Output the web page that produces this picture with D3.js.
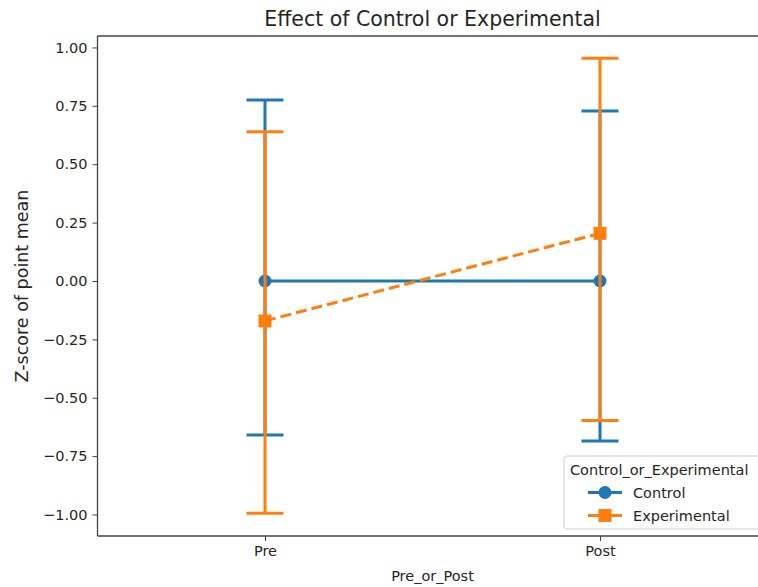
<!DOCTYPE html>
<html>
<head>
<meta charset="utf-8">
<script src="https://cdn.jsdelivr.net/npm/d3@7"></script>
<style>
  html, body { margin: 0; padding: 0; background: #fff; }
  svg { display: block; font-family: "DejaVu Sans", sans-serif; }
</style>
</head>
<body>
<svg id="chart" width="758" height="587"></svg>
<script>
// ---- data ----
const categories = ["Pre", "Post"];
const seriesNames = ["Control", "Experimental"];
const controlMean = [0.0, 0.0];
const controlLow = [-0.660, -0.685];
const controlHigh = [0.775, 0.728];
const experimentalMean = [-0.171, 0.204];
const experimentalLow = [-0.995, -0.597];
const experimentalHigh = [0.639, 0.954];
const yTicks = [-1.0, -0.75, -0.5, -0.25, 0.0, 0.25, 0.5, 0.75, 1.0];

const titleText = "Effect of Control or Experimental";
const xLabel = "Pre_or_Post";
const yLabel = "Z-score of point mean";
const legendTitle = "Control_or_Experimental";

const colors = ["#1f77b4", "#ff7f0e"];

const series = [
  { name: seriesNames[0], mean: controlMean, low: controlLow, high: controlHigh, color: colors[0], marker: "circle", dash: null },
  { name: seriesNames[1], mean: experimentalMean, low: experimentalLow, high: experimentalHigh, color: colors[1], marker: "square", dash: "11,5" }
];

// ---- layout ----
const svg = d3.select("#chart");
const pLeft = 97.5, pRight = 767.5, pTop = 36, pBottom = 536;

const x = d3.scalePoint().domain(categories).range([pLeft, pRight]).padding(0.5);
const y = d3.scaleLinear().domain([-1.092, 1.049]).range([pBottom, pTop]);

const axisColor = "#444";
const textColor = "#262626";

// axes
const yAxis = svg.append("g")
  .attr("transform", `translate(${pLeft},0)`)
  .call(d3.axisLeft(y).tickValues(yTicks).tickFormat(d3.format(".2f")).tickSize(5).tickPadding(5));
const xAxis = svg.append("g")
  .attr("transform", `translate(0,${pBottom})`)
  .call(d3.axisBottom(x).tickSize(5).tickPadding(5));

[yAxis, xAxis].forEach(g => {
  g.select(".domain").remove();
  g.selectAll(".tick line").attr("stroke", axisColor).attr("stroke-width", 1);
  g.selectAll(".tick text").attr("fill", textColor).style("font-size", "14.5px")
    .style("font-family", "'DejaVu Sans', sans-serif");
});
yAxis.selectAll(".tick text").text(d => d3.format(".2f")(d).replace("-", "\u2212"));

// spines
const spine = (x1, y1, x2, y2) => svg.append("line").attr("x1", x1).attr("y1", y1).attr("x2", x2).attr("y2", y2)
  .attr("stroke", axisColor).attr("stroke-width", 1.3);
spine(pLeft, pTop, pLeft, pBottom);
spine(pLeft, pBottom, pRight, pBottom);
spine(pLeft, pTop, pRight, pTop);
spine(pRight, pTop, pRight, pBottom);

// plot marks
const capHalf = 18.5;
series.forEach(s => {
  const g = svg.append("g");
  categories.forEach((c, i) => {
    const cx = x(c);
    g.append("line").attr("x1", cx).attr("x2", cx).attr("y1", y(s.low[i])).attr("y2", y(s.high[i]))
      .attr("stroke", s.color).attr("stroke-width", 3);
    [s.low[i], s.high[i]].forEach(v => {
      g.append("line").attr("x1", cx - capHalf).attr("x2", cx + capHalf).attr("y1", y(v)).attr("y2", y(v))
        .attr("stroke", s.color).attr("stroke-width", 3);
    });
  });
  const line = d3.line().x((d, i) => x(categories[i])).y(d => y(d));
  g.append("path").datum(s.mean).attr("d", line).attr("fill", "none")
    .attr("stroke", s.color).attr("stroke-width", 3)
    .attr("stroke-dasharray", s.dash);
  categories.forEach((c, i) => {
    if (s.marker === "circle") {
      g.append("circle").attr("cx", x(c)).attr("cy", y(s.mean[i])).attr("r", 6.5).attr("fill", s.color);
    } else {
      g.append("rect").attr("x", x(c) - 6.5).attr("y", y(s.mean[i]) - 6.5).attr("width", 13).attr("height", 13).attr("fill", s.color);
    }
  });
});

// title and labels
svg.append("text").attr("x", (pLeft + pRight) / 2).attr("y", 26).attr("text-anchor", "middle")
  .attr("fill", textColor).style("font-size", "20.5px").text(titleText);
svg.append("text").attr("x", (pLeft + pRight) / 2).attr("y", 581).attr("text-anchor", "middle")
  .attr("fill", textColor).style("font-size", "14.5px").text(xLabel);
svg.append("text").attr("transform", `translate(28,${(pTop + pBottom) / 2}) rotate(-90)`).attr("text-anchor", "middle")
  .attr("fill", textColor).style("font-size", "17.5px").text(yLabel);

// legend
const lg = svg.append("g");
lg.append("rect").attr("x", 564).attr("y", 456).attr("width", 210).attr("height", 73).attr("rx", 3)
  .attr("fill", "#fff").attr("fill-opacity", 0.8).attr("stroke", "#d0d0d0").attr("stroke-width", 1);
lg.append("text").attr("x", 570).attr("y", 475).attr("fill", textColor).style("font-size", "14.5px").text(legendTitle);
series.forEach((s, i) => {
  const cy = 492.5 + i * 23;
  lg.append("line").attr("x1", 588).attr("x2", 622).attr("y1", cy).attr("y2", cy)
    .attr("stroke", s.color).attr("stroke-width", 3);
  if (s.marker === "circle") {
    lg.append("circle").attr("cx", 605).attr("cy", cy).attr("r", 6.5).attr("fill", s.color);
  } else {
    lg.append("rect").attr("x", 598.5).attr("y", cy - 6.5).attr("width", 13).attr("height", 13).attr("fill", s.color);
  }
  lg.append("text").attr("x", 633).attr("y", cy + 5).attr("fill", textColor).style("font-size", "14.5px").text(s.name);
});
</script>
</body>
</html>
